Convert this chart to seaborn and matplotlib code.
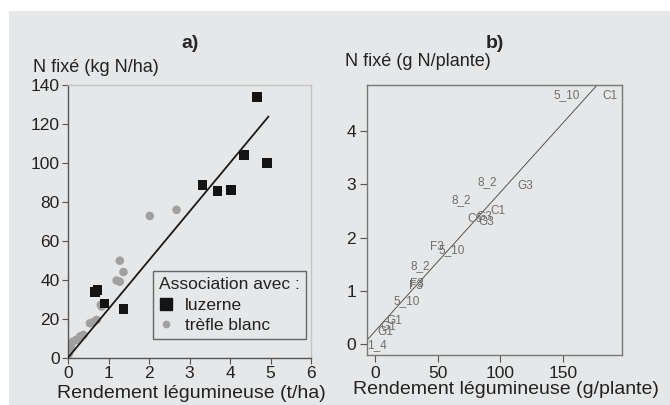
import numpy as np
import pandas as pd
import matplotlib
matplotlib.use("Agg")
from matplotlib import pyplot as plt
from matplotlib.patches import Rectangle
from matplotlib.lines import Line2D
import seaborn as sns

# panel a) : rendement (t/ha) vs N fixé (kg N/ha)
luzerne_x = [4.66, 4.35, 4.91, 3.32, 3.69, 4.02, 0.66, 0.73, 0.90, 1.37]
luzerne_y = [133.7, 104.0, 100.0, 88.7, 85.7, 86.0, 33.6, 34.9, 27.9, 24.9]
trefle_x = [2.02, 2.68, 1.28, 1.37, 1.20, 1.28, 0.81, 0.83, 0.71, 0.54, 0.65,
            0.38, 0.30, 0.20, 0.12, 0.07, 0.04, 0.02]
trefle_y = [72.8, 75.9, 49.8, 44.0, 39.6, 39.0, 27.1, 26.3, 19.4, 17.7, 18.6,
            11.7, 10.9, 9.1, 8.2, 5.4, 3.7, 2.0]
reg_a_x = [0.0, 4.95]
reg_a_y = [0.0, 123.8]

# panel b) : rendement (g/plante) vs N fixé (g N/plante), étiquettes
lab_b = ["5_10", "C1", "8_2", "G3", "8_2", "C6", "G3", "G3", "C1", "F3", "5_10",
         "8_2", "F3", "F3", "5_10", "G1", "G1", "G1", "1_4"]
lab_x = [152.8, 187.4, 89.6, 119.6, 69.1, 79.7, 86.9, 89.1, 98.3, 49.2, 61.1,
         35.9, 33.2, 32.3, 25.3, 15.5, 10.5, 8.5, 1.3]
lab_y = [4.68, 4.65, 3.05, 2.96, 2.71, 2.35, 2.38, 2.29, 2.49, 1.83, 1.77,
         1.46, 1.13, 1.10, 0.81, 0.43, 0.33, 0.24, -0.01]
reg_b_x = [-6.4, 178.0]
reg_b_y = [0.08, 4.88]

BG = "#e6e7e8"
W, H = 670, 405

sns.set_style("white")
plt.rcParams['font.family'] = ['Liberation Sans', 'DejaVu Sans']

fig = plt.figure(figsize=(W / 100, H / 100), dpi=100)
fig.patch.set_facecolor("white")
fig.patches.append(Rectangle((9 / W, 0), 1, (H - 11) / H, transform=fig.transFigure,
                             facecolor=BG, edgecolor="none", zorder=-5))


def px_axes(l, t, r, b):
    return fig.add_axes([l / W, (H - b) / H, (r - l) / W, (b - t) / H])


# ---- a)
ax1 = px_axes(68, 85, 311, 357.7)
ax1.set_facecolor(BG)
df_a = pd.DataFrame({
    "x": luzerne_x + trefle_x,
    "y": luzerne_y + trefle_y,
    "g": ["luzerne"] * len(luzerne_x) + ["trèfle blanc"] * len(trefle_x),
})
sns.scatterplot(data=df_a[df_a.g == "trèfle blanc"], x="x", y="y", ax=ax1,
                color="#a0a0a0", s=38, edgecolor="none", legend=False, zorder=2)
sns.lineplot(x=reg_a_x, y=reg_a_y, ax=ax1, color="#1a1a1a", linewidth=1.3, zorder=3)
sns.scatterplot(data=df_a[df_a.g == "luzerne"], x="x", y="y", ax=ax1,
                color="#141414", marker="s", s=48, edgecolor="none", legend=False, zorder=4)
ax1.set_xlim(0, 6)
ax1.set_ylim(0, 140)
ax1.set_xticks(range(0, 7))
ax1.set_yticks(range(0, 141, 20))
ax1.set_xlabel("")
ax1.set_ylabel("")
for s in ["left", "bottom"]:
    ax1.spines[s].set_color("#555555")
for s in ["top", "right"]:
    ax1.spines[s].set_color("#c4c4c4")
for s in ax1.spines.values():
    s.set_linewidth(1.0)
ax1.tick_params(direction="out", length=4, width=0.8, color="#555555",
                labelsize=12.5, labelcolor="#222222", pad=2, left=True, bottom=True)

handles = [
    Line2D([], [], marker="s", color="#141414", linestyle="none", markersize=8),
    Line2D([], [], marker="o", color="#a0a0a0", linestyle="none", markersize=4.5),
]
leg = ax1.legend(handles, ["luzerne", "trèfle blanc"], title="Association avec :",
                 loc="lower left", bbox_to_anchor=(0.349, 0.0675), fontsize=12.5,
                 title_fontsize=12.5, frameon=True, fancybox=False, handlelength=0.8,
                 handletextpad=0.7, borderpad=0.35, labelspacing=0.3, borderaxespad=0)
leg._legend_box.align = "left"
leg.get_frame().set_edgecolor("#444444")
leg.get_frame().set_facecolor(BG)
leg.get_frame().set_linewidth(1.0)
for t in leg.get_texts():
    t.set_color("#222222")
leg.get_title().set_color("#222222")

# ---- b)
ax2 = px_axes(367, 85, 622, 355)
ax2.set_facecolor(BG)
sns.lineplot(x=reg_b_x, y=reg_b_y, ax=ax2, color="#555555", linewidth=0.7)
for t, x, y in zip(lab_b, lab_x, lab_y):
    ax2.text(x, y, t, fontsize=8.5, color="#6e6e6e", ha="center", va="center")
ax2.set_xlim(-6.4, 197)
ax2.set_ylim(-0.2, 4.86)
ax2.set_xticks([0, 50, 100, 150])
ax2.set_yticks([0, 1, 2, 3, 4])
ax2.set_xlabel("")
ax2.set_ylabel("")
for s in ax2.spines.values():
    s.set_color("#777777")
    s.set_linewidth(1.0)
ax2.tick_params(direction="out", length=5, width=0.8, color="#555555",
                labelsize=12.5, labelcolor="#222222", pad=3, left=True, bottom=True)

# titres et libellés
fig.text(190 / W, 1 - 43 / H, "a)", fontsize=14, fontweight="bold", ha="center", va="center")
fig.text(495 / W, 1 - 43 / H, "b)", fontsize=14, fontweight="bold", ha="center", va="center")
fig.text(33 / W, 1 - 67 / H, "N fixé (kg N/ha)", fontsize=13, ha="left", va="center", color="#222222")
fig.text(345 / W, 1 - 62 / H, "N fixé (g N/plante)", fontsize=13, ha="left", va="center", color="#222222")
fig.text(191 / W, 1 - 393 / H, "Rendement légumineuse (t/ha)", fontsize=14, ha="center",
         va="center", color="#222222")
fig.text(506 / W, 1 - 390 / H, "Rendement légumineuse (g/plante)", fontsize=14, ha="center",
         va="center", color="#222222")

fig.savefig("out.png", dpi=100, facecolor=fig.get_facecolor())
